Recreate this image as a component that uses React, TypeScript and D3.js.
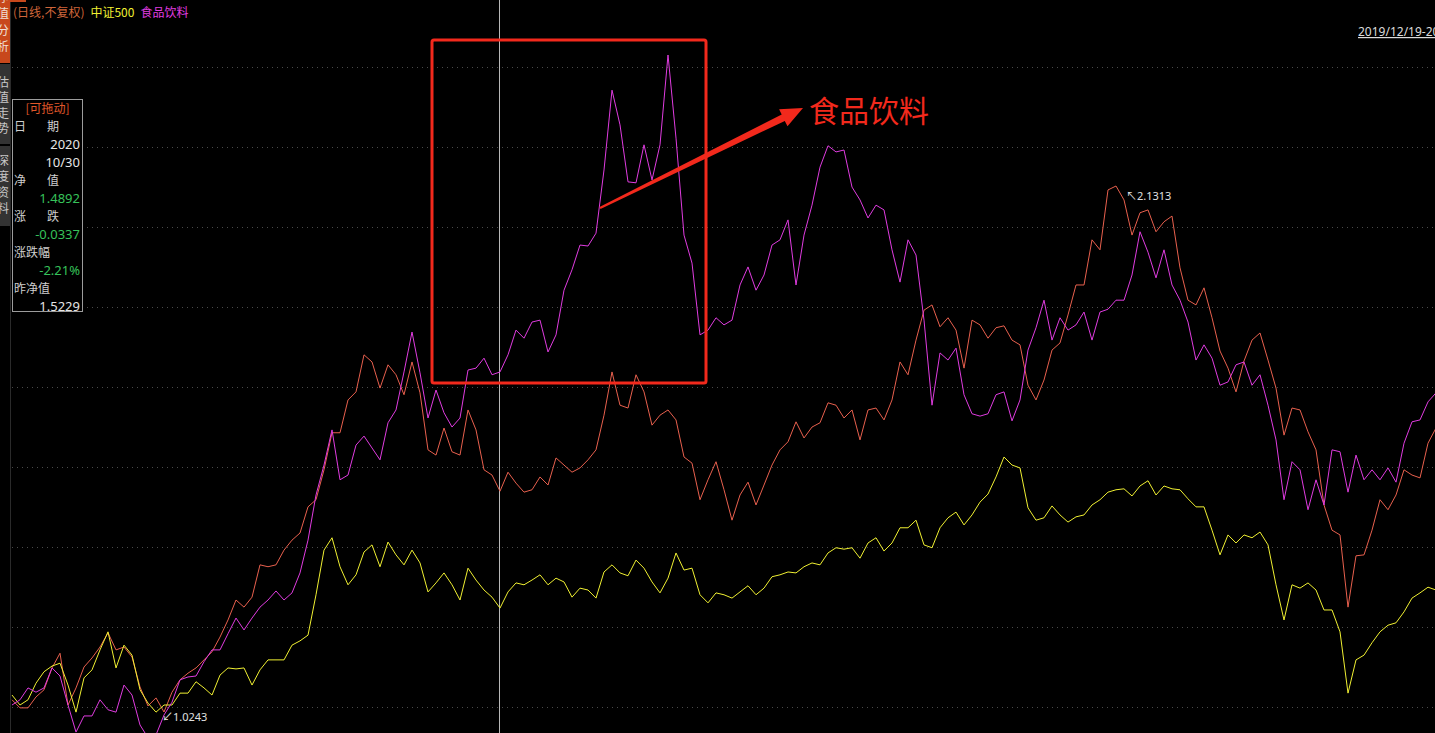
import React from "react";
import * as d3 from "d3";

// ---- Data ----
// Main series: fund net value (daily, unadjusted)
const fundNav: number[] = [
  1.050, 1.033, 1.033, 1.056, 1.071, 1.117, 1.148, 1.039, 1.075, 1.119,
  1.138, 1.161, 1.191, 1.155, 1.161, 1.140, 1.077, 1.037, 1.054, 1.0243,
  1.066, 1.092, 1.106, 1.117, 1.134, 1.151, 1.182, 1.218, 1.260, 1.245,
  1.266, 1.334, 1.330, 1.334, 1.365, 1.386, 1.401, 1.456, 1.471, 1.534,
  1.612, 1.612, 1.681, 1.698, 1.776, 1.761, 1.706, 1.755, 1.734, 1.692,
  1.761, 1.696, 1.576, 1.565, 1.622, 1.572, 1.565, 1.660, 1.618, 1.534,
  1.523, 1.489, 1.529, 1.506, 1.487, 1.492, 1.519, 1.502, 1.559, 1.544,
  1.529, 1.538, 1.555, 1.576, 1.649, 1.740, 1.670, 1.664, 1.734, 1.698,
  1.628, 1.649, 1.660, 1.639, 1.561, 1.548, 1.471, 1.513, 1.551, 1.492,
  1.428, 1.481, 1.508, 1.460, 1.502, 1.544, 1.576, 1.593, 1.635, 1.601,
  1.624, 1.633, 1.675, 1.670, 1.643, 1.660, 1.597, 1.660, 1.664, 1.639,
  1.681, 1.761, 1.734, 1.807, 1.870, 1.881, 1.835, 1.854, 1.828, 1.748,
  1.849, 1.839, 1.811, 1.833, 1.837, 1.807, 1.797, 1.712, 1.681, 1.723,
  1.786, 1.801, 1.860, 1.923, 1.923, 2.018, 1.997, 2.123, 2.1313, 2.102,
  2.028, 2.075, 2.081, 2.035, 2.056, 2.068, 1.959, 1.891, 1.881, 1.917,
  1.854, 1.784, 1.748, 1.698, 1.763, 1.807, 1.822, 1.765, 1.706, 1.607,
  1.664, 1.660, 1.614, 1.576, 1.460, 1.407, 1.397, 1.245, 1.353, 1.355,
  1.407, 1.471, 1.450, 1.481, 1.534, 1.523, 1.517, 1.590, 1.622,
];

// 中证500 (normalised)
const zz500: number[] = [
  1.060, 1.039, 1.050, 1.085, 1.109, 1.121, 1.127, 1.081, 1.024, 1.096,
  1.113, 1.155, 1.193, 1.117, 1.165, 1.144, 1.071, 1.043, 1.024, 1.039,
  1.039, 1.064, 1.064, 1.088, 1.075, 1.060, 1.102, 1.117, 1.115, 1.117,
  1.081, 1.113, 1.134, 1.134, 1.134, 1.165, 1.174, 1.186, 1.271, 1.365,
  1.391, 1.330, 1.292, 1.313, 1.361, 1.376, 1.330, 1.382, 1.355, 1.334,
  1.365, 1.338, 1.277, 1.296, 1.317, 1.292, 1.260, 1.327, 1.302, 1.281,
  1.266, 1.243, 1.277, 1.296, 1.292, 1.302, 1.313, 1.292, 1.306, 1.298,
  1.266, 1.285, 1.281, 1.264, 1.319, 1.334, 1.317, 1.311, 1.344, 1.327,
  1.298, 1.275, 1.306, 1.359, 1.323, 1.327, 1.271, 1.254, 1.275, 1.271,
  1.264, 1.277, 1.290, 1.271, 1.285, 1.309, 1.313, 1.319, 1.317, 1.330,
  1.338, 1.334, 1.359, 1.370, 1.367, 1.370, 1.348, 1.380, 1.391, 1.363,
  1.380, 1.412, 1.412, 1.428, 1.376, 1.370, 1.412, 1.433, 1.445, 1.418,
  1.439, 1.466, 1.483, 1.519, 1.561, 1.544, 1.538, 1.454, 1.428, 1.433,
  1.458, 1.439, 1.424, 1.435, 1.439, 1.460, 1.471, 1.487, 1.492, 1.494,
  1.479, 1.500, 1.511, 1.481, 1.500, 1.494, 1.492, 1.473, 1.456, 1.456,
  1.407, 1.355, 1.397, 1.380, 1.397, 1.391, 1.403, 1.376, 1.292, 1.218,
  1.292, 1.285, 1.296, 1.281, 1.239, 1.239, 1.193, 1.064, 1.134, 1.144,
  1.170, 1.193, 1.207, 1.212, 1.235, 1.264, 1.275, 1.287, 1.281,
];

// 食品饮料 (normalised)
const foodBev: number[] = [
  1.039, 1.050, 1.075, 1.066, 1.075, 1.117, 1.100, 1.039, 0.982, 1.016,
  1.016, 1.050, 1.029, 1.024, 1.081, 1.060, 0.997, 0.970, 0.976, 1.018,
  1.045, 1.092, 1.098, 1.100, 1.130, 1.155, 1.155, 1.189, 1.222, 1.197,
  1.222, 1.245, 1.260, 1.279, 1.260, 1.275, 1.317, 1.386, 1.481, 1.544,
  1.618, 1.513, 1.523, 1.586, 1.605, 1.580, 1.555, 1.633, 1.660, 1.740,
  1.824, 1.738, 1.643, 1.702, 1.654, 1.624, 1.643, 1.744, 1.748, 1.769,
  1.734, 1.740, 1.776, 1.828, 1.811, 1.845, 1.849, 1.782, 1.818, 1.912,
  1.955, 2.007, 2.005, 2.032, 2.165, 2.333, 2.260, 2.140, 2.138, 2.218,
  2.144, 2.218, 2.407, 2.232, 2.028, 1.969, 1.818, 1.828, 1.854, 1.839,
  1.849, 1.923, 1.961, 1.912, 1.944, 2.007, 2.018, 2.060, 1.923, 2.028,
  2.091, 2.171, 2.216, 2.203, 2.207, 2.129, 2.102, 2.064, 2.091, 2.081,
  1.997, 1.929, 2.018, 1.986, 1.849, 1.670, 1.780, 1.765, 1.790, 1.692,
  1.652, 1.647, 1.652, 1.692, 1.698, 1.637, 1.681, 1.786, 1.833, 1.891,
  1.807, 1.854, 1.828, 1.839, 1.866, 1.807, 1.866, 1.872, 1.891, 1.891,
  1.944, 2.035, 1.992, 1.938, 1.997, 1.923, 1.891, 1.845, 1.765, 1.797,
  1.769, 1.712, 1.719, 1.755, 1.761, 1.712, 1.734, 1.670, 1.597, 1.471,
  1.551, 1.534, 1.450, 1.513, 1.460, 1.576, 1.572, 1.487, 1.565, 1.513,
  1.534, 1.513, 1.538, 1.508, 1.590, 1.635, 1.639, 1.677, 1.696,
];

const cursorIndex = 61;
const headerLabels = ["(日线,不复权)", "中证500", "食品饮料"];
const dateRangeText = "2019/12/19-2021/12/31";
const annotationText = "食品饮料";
const tabTopChars = ["净", "值", "分", "析"];
const tabMidChars = ["估", "值", "走", "势"];
const tabLowChars = ["深", "度", "资", "料"];
const infoTitle = "[可拖动]";
const infoRows: { left?: string; mid?: string; right?: string; kind: string }[] = [
  { left: "日", mid: "期", kind: "label" },
  { right: "2020", kind: "white" },
  { right: "10/30", kind: "white" },
  { left: "净", mid: "值", kind: "label" },
  { right: "1.4892", kind: "green" },
  { left: "涨", mid: "跌", kind: "label" },
  { right: "-0.0337", kind: "green" },
  { left: "涨跌幅", kind: "label" },
  { right: "-2.21%", kind: "green" },
  { left: "昨净值", kind: "label" },
  { right: "1.5229", kind: "white" },
];

const W = 1435;
const H = 733;
const COLORS = {
  fund: "#e8604e",
  zz: "#f0f032",
  food: "#e03ce0",
  header0: "#d0663a",
  annot: "#f2291c",
  grid: "#4a4a4a",
  green: "#36c25a",
};
const FONT = "'Noto Sans', 'Noto Sans CJK SC', sans-serif";
const CJK = "'Noto Sans CJK SC', 'Noto Sans', sans-serif";

export default function App() {
  const n = fundNav.length;
  const x = d3.scaleLinear().domain([0, n - 1]).range([12, 1436]);
  const ext = d3.extent(fundNav) as [number, number];
  const y = d3.scaleLinear().domain(ext).range([712, 186]);
  const line = d3
    .line<number>()
    .x((_, i) => x(i))
    .y((d) => y(d));

  const maxIdx = d3.maxIndex(fundNav);
  const minIdx = d3.minIndex(fundNav);

  const gridYs = d3.range(9).map((k) => 67 + 80 * k);

  // arrow geometry
  const ax0 = 600, ay0 = 208, ax1 = 803, ay1 = 108;
  const dx = ax1 - ax0, dy = ay1 - ay0;
  const len = Math.hypot(dx, dy);
  const ux = dx / len, uy = dy / len;
  const nx = -uy, ny = ux;
  const headLen = 22;
  const bx = ax1 - ux * headLen, by = ay1 - uy * headLen;
  const p = (px: number, py: number) => `${px.toFixed(1)},${py.toFixed(1)}`;
  const arrowPts = [
    p(ax0 + nx * 1.2, ay0 + ny * 1.2),
    p(bx + nx * 3.5, by + ny * 3.5),
    p(bx + nx * 9.5, by + ny * 9.5),
    p(ax1, ay1),
    p(bx - nx * 9.5, by - ny * 9.5),
    p(bx - nx * 3.5, by - ny * 3.5),
    p(ax0 - nx * 1.2, ay0 - ny * 1.2),
  ].join(" ");

  const cx = x(cursorIndex);

  return (
    <div style={{ position: "fixed", left: 0, top: 0, width: W, height: H, background: "#000" }}>
      <svg width={W} height={H} style={{ display: "block" }}>
        <defs>
          <clipPath id="plot">
            <rect x={10} y={0} width={W - 10} height={H} />
          </clipPath>
          <clipPath id="tab">
            <rect x={0} y={0} width={10} height={H} />
          </clipPath>
        </defs>
        <rect x={0} y={0} width={W} height={H} fill="#000" />

        {/* grid */}
        {gridYs.map((gy) => (
          <line key={gy} x1={12} x2={W} y1={gy + 0.5} y2={gy + 0.5} stroke={COLORS.grid} strokeDasharray="1 4" />
        ))}
        <line x1={10.5} x2={10.5} y1={0} y2={H} stroke="#2a2a2a" />

        {/* cursor */}
        <line x1={cx - 0.5} x2={cx - 0.5} y1={0} y2={H} stroke="#b8b8b8" strokeWidth={1} />

        {/* series */}
        <g clipPath="url(#plot)" fill="none" strokeWidth={1} strokeLinejoin="round">
          <path d={line(fundNav) || ""} stroke={COLORS.fund} />
          <path d={line(zz500) || ""} stroke={COLORS.zz} />
          <path d={line(foodBev) || ""} stroke={COLORS.food} />
        </g>

        {/* max / min labels */}
        <text x={x(maxIdx) + 10} y={y(fundNav[maxIdx]) + 14} fill="#e0e0e0" fontSize={11} fontFamily={FONT}>
          ↖{fundNav[maxIdx].toFixed(4)}
        </text>
        <text x={x(minIdx) - 2} y={y(fundNav[minIdx]) + 9} fill="#e0e0e0" fontSize={11} fontFamily={FONT}>
          ↙{fundNav[minIdx].toFixed(4)}
        </text>

        {/* annotation box & arrow */}
        <rect x={432} y={40} width={274} height={343} rx={2} fill="none" stroke={COLORS.annot} strokeWidth={3} />
        <polygon points={arrowPts} fill={COLORS.annot} />
        <text x={809} y={122} fill={COLORS.annot} fontSize={30} fontFamily={CJK}>
          {annotationText}
        </text>

        {/* header */}
        <text x={13} y={17} fontSize={12} fontFamily={CJK}>
          <tspan fill={COLORS.header0}>{headerLabels[0]}</tspan>
          <tspan fill={COLORS.zz} dx={6}>{headerLabels[1]}</tspan>
          <tspan fill={COLORS.food} dx={6}>{headerLabels[2]}</tspan>
        </text>
        <rect x={10} y={0} width={16} height={2} fill="#c8481c" />

        {/* date range */}
        <text x={1358} y={36} fill="#dcdcdc" fontSize={12} fontFamily={FONT} textDecoration="underline">
          {dateRangeText}
        </text>

        {/* side tabs */}
        <g clipPath="url(#tab)">
          <rect x={0} y={0} width={10} height={63} fill="#c8481c" />
          <rect x={0} y={64} width={10} height={80} fill="#333333" />
          <rect x={0} y={146} width={10} height={80} fill="#333333" />
          {tabTopChars.map((c, i) => (
            <text key={"t" + i} x={3} y={-3 + 16.5 * i + 4.5} textAnchor="middle" fill="#f0e0d8" fontSize={12} fontFamily={CJK}>
              {c}
            </text>
          ))}
          {tabMidChars.map((c, i) => (
            <text key={"m" + i} x={3} y={82 + 15.5 * i + 4.5} textAnchor="middle" fill="#c8c8c8" fontSize={12} fontFamily={CJK}>
              {c}
            </text>
          ))}
          {tabLowChars.map((c, i) => (
            <text key={"l" + i} x={3} y={160 + 16 * i + 4.5} textAnchor="middle" fill="#c8c8c8" fontSize={12} fontFamily={CJK}>
              {c}
            </text>
          ))}
        </g>

        {/* info panel */}
        <rect x={12.5} y={99.5} width={70} height={212} fill="#000" stroke="#9c9c9c" />
        <text x={47.5} y={112.5} textAnchor="middle" fill="#e0582a" fontSize={12} fontFamily={CJK}>
          {infoTitle}
        </text>
        {infoRows.map((r, k) => {
          const by2 = 130.5 + 18 * k;
          const col = r.kind === "green" ? COLORS.green : r.kind === "white" ? "#e6e6e6" : "#cfcfcf";
          return (
            <g key={k}>
              {r.left && (
                <text x={14} y={by2} fill={col} fontSize={12} fontFamily={CJK}>
                  {r.left}
                </text>
              )}
              {r.mid && (
                <text x={47} y={by2} fill={col} fontSize={12} fontFamily={CJK}>
                  {r.mid}
                </text>
              )}
              {r.right && (
                <text x={80} y={by2} textAnchor="end" fill={col} fontSize={13} fontFamily={FONT}>
                  {r.right}
                </text>
              )}
            </g>
          );
        })}
      </svg>
    </div>
  );
}
